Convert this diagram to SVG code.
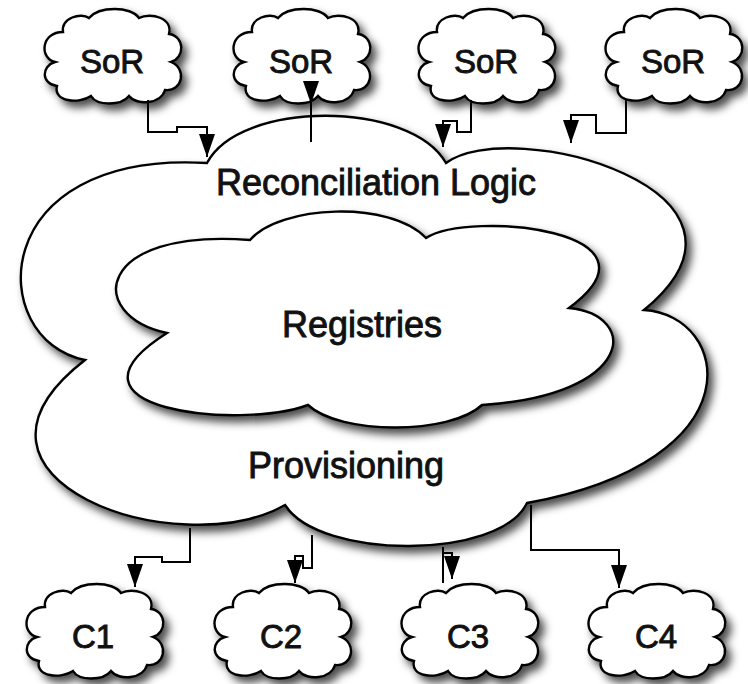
<svg xmlns="http://www.w3.org/2000/svg" width="748" height="684" viewBox="0 0 748 684">
<style>
.cloud{fill:#fff;stroke:#000;stroke-width:2.4;filter:url(#sh)}
.lbl{font-family:"Liberation Sans",Arial,sans-serif;fill:#111;stroke:#111;stroke-width:0.9;text-anchor:middle}
.big{font-size:36px}
.sm{font-size:33px}
.conn{fill:none;stroke:#000;stroke-width:2}
</style>
<defs>
<filter id="sh" x="-20%" y="-20%" width="140%" height="140%">
<feDropShadow dx="5" dy="6" stdDeviation="4" flood-color="#000" flood-opacity="0.7"/>
</filter>
<marker id="ah" markerUnits="userSpaceOnUse" markerWidth="24" markerHeight="16" refX="23" refY="8" orient="auto">
<path d="M0,0 L23,8 L0,16 Z" fill="#000"/>
</marker>
<path id="c" d="M12,52 C-4,48 -2,22 20,22 C18,8 38,2 46,8 C56,-4 88,-4 96,8 C108,2 130,8 126,24 C142,26 142,48 128,52 C144,58 140,82 122,80 C118,94 94,96 86,86 C78,96 54,96 48,86 C36,94 10,92 14,76 C-2,74 -2,56 12,52 Z"/>
</defs>
<rect width="748" height="684" fill="#fff"/>
<g id="main">
<path class="cloud" d="M207,163 C240,100 410,100 446,163 C510,115 790,190 644,310 C730,315 760,460 527,503 C500,560 320,560 285,505 C180,565 -70,480 85,360 C-15,340 -15,150 207,163 Z"/>
<text class="lbl big" x="376" y="195">Reconciliation Logic</text>
<text class="lbl big" x="346" y="478">Provisioning</text>
</g>
<g id="registries">
<path class="cloud" d="M250,240 C280,205 390,200 426,238 C470,210 675,230 569,308 C640,315 635,395 482,405 C450,435 340,435 308,405 C240,430 45,410 167,333 C85,315 95,228 250,240 Z"/>
<text class="lbl big" x="362" y="337">Registries</text>
</g>
<g id="sor1"><use href="#c" class="cloud" x="43" y="10"/><text class="lbl sm" x="112" y="73">SoR</text></g>
<g id="sor2"><use href="#c" class="cloud" x="232" y="10"/><text class="lbl sm" x="301" y="73">SoR</text></g>
<g id="sor3"><use href="#c" class="cloud" x="417" y="10"/><text class="lbl sm" x="486" y="73">SoR</text></g>
<g id="sor4"><use href="#c" class="cloud" x="604" y="10"/><text class="lbl sm" x="673" y="73">SoR</text></g>
<g id="c1"><use href="#c" class="cloud" x="25" y="585"/><text class="lbl sm" x="93" y="648">C1</text></g>
<g id="c2"><use href="#c" class="cloud" x="213" y="585"/><text class="lbl sm" x="281" y="648">C2</text></g>
<g id="c3"><use href="#c" class="cloud" x="400" y="585"/><text class="lbl sm" x="468" y="648">C3</text></g>
<g id="c4"><use href="#c" class="cloud" x="587" y="585"/><text class="lbl sm" x="656" y="648">C4</text></g>
<g id="connectors">
<path class="conn" d="M148,100 V132 H177 V127 H207 V157" marker-end="url(#ah)"/>
<path class="conn" d="M311,84 V104" marker-end="url(#ah)"/>
<path class="conn" d="M311,100 V142"/>
<path class="conn" d="M471,100 V132 H457 V121 H443 V147" marker-end="url(#ah)"/>
<path class="conn" d="M626,100 V133 H596 V115 H571 V143" marker-end="url(#ah)"/>
<path class="conn" d="M190,528 V562 H162 V557 H135 V587" marker-end="url(#ah)"/>
<path class="conn" d="M312,535 V568 H303 V556 H295 V583" marker-end="url(#ah)"/>
<path class="conn" d="M443,547 V583"/>
<path class="conn" d="M443,553 H452 V579" marker-end="url(#ah)"/>
<path class="conn" d="M531,505 V550 H619 V588" marker-end="url(#ah)"/>
</g>
</svg>
